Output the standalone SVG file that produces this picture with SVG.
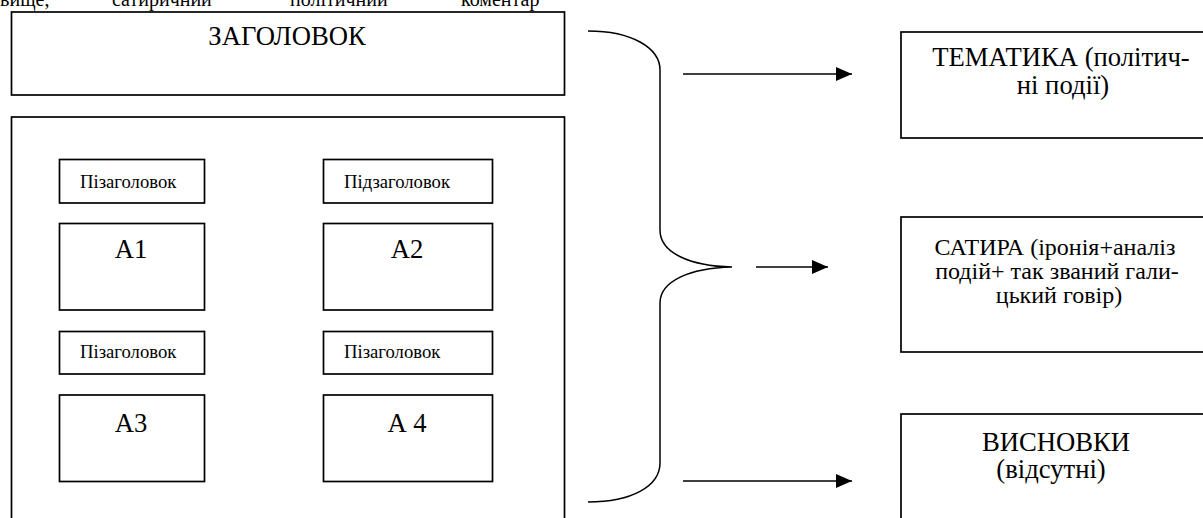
<svg xmlns="http://www.w3.org/2000/svg" width="1203" height="518" viewBox="0 0 1203 518" font-family="'Liberation Serif', 'Times New Roman', serif">
<style>
  .box { fill: #fff; stroke: #000; stroke-width: 1.7; }
  .t { font-family: "Liberation Serif", "Times New Roman", serif; fill: #000; }
  .big { font-size: 26.67px; }
  .mid { font-size: 24px; }
  .small { font-size: 18.67px; }
  .c { text-anchor: middle; }
  .conn { fill: none; stroke: #000; stroke-width: 1.5; }
</style>
<defs>
  <marker id="arr" viewBox="0 0 16 14" refX="16" refY="7" markerWidth="16" markerHeight="14" markerUnits="userSpaceOnUse" orient="auto">
    <path d="M0,0 L16,7 L0,14 Z" fill="#000"/>
  </marker>
</defs>
<rect width="1203" height="518" fill="#fff"/>
<g id="top-line">
  <text class="t" font-size="20" y="6"><tspan x="0">вище,</tspan><tspan x="112">сатиричний</tspan><tspan x="290">політичний</tspan><tspan x="461">коментар</tspan></text>
</g>
<g id="header">
  <rect class="box" x="11.5" y="12" width="553" height="83"/>
  <text class="t big c" x="287" y="45">ЗАГОЛОВОК</text>
</g>
<g id="body">
  <rect class="box" x="11.5" y="117" width="553" height="420"/>
</g>
<g id="sub1">
  <rect class="box" x="59.5" y="159.5" width="145" height="43.5"/>
  <text class="t small" x="80" y="188">Пізаголовок</text>
</g>
<g id="sub2">
  <rect class="box" x="323.5" y="159.5" width="169" height="43.5"/>
  <text class="t small" x="344" y="188">Підзаголовок</text>
</g>
<g id="a1">
  <rect class="box" x="59.5" y="223.5" width="145" height="86.5"/>
  <text class="t big c" x="131" y="258">А1</text>
</g>
<g id="a2">
  <rect class="box" x="323.5" y="223.5" width="169" height="86.5"/>
  <text class="t big c" x="407" y="258">А2</text>
</g>
<g id="sub3">
  <rect class="box" x="59.5" y="331.5" width="145" height="42.5"/>
  <text class="t small" x="80" y="358">Пізаголовок</text>
</g>
<g id="sub4">
  <rect class="box" x="323.5" y="331.5" width="169" height="42.5"/>
  <text class="t small" x="344" y="358">Пізаголовок</text>
</g>
<g id="a3">
  <rect class="box" x="59.5" y="395" width="145" height="86.5"/>
  <text class="t big c" x="131" y="432">А3</text>
</g>
<g id="a4">
  <rect class="box" x="323.5" y="395" width="169" height="86.5"/>
  <text class="t big c" x="407" y="432">А 4</text>
</g>
<g id="tematyka">
  <rect class="box" x="901" y="32" width="320" height="106"/>
  <text class="t big c" x="1061" y="66">ТЕМАТИКА (політич-</text>
  <text class="t big c" x="1063" y="94">ні події)</text>
</g>
<g id="satyra">
  <rect class="box" x="901" y="217" width="320" height="135"/>
  <text class="t mid c" x="1055" y="255">САТИРА (іронія+аналіз</text>
  <text class="t mid c" x="1057" y="279">подій+ так званий гали-</text>
  <text class="t mid c" x="1059" y="303">цький говір)</text>
</g>
<g id="vysnovky">
  <rect class="box" x="901" y="414" width="320" height="130"/>
  <text class="t big c" x="1056" y="451">ВИСНОВКИ</text>
  <text class="t big c" x="1051" y="478">(відсутні)</text>
</g>
<g id="connectors">
  <path class="conn" d="M588,31 C632,31 660,48 660,70 V230 C660,253 690,266 732,267 C690,268 660,281 660,303 V463 C660,486 632,502 588,502"/>
  <line class="conn" x1="683" y1="74" x2="852" y2="74" marker-end="url(#arr)"/>
  <line class="conn" x1="756" y1="267" x2="828" y2="267" marker-end="url(#arr)"/>
  <line class="conn" x1="683" y1="481" x2="852" y2="481" marker-end="url(#arr)"/>
</g>
</svg>
